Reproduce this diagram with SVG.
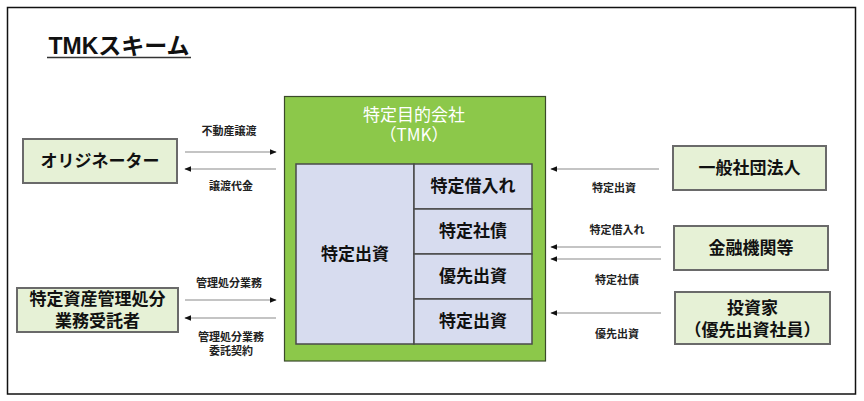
<svg xmlns="http://www.w3.org/2000/svg" width="864" height="401" viewBox="0 0 864 401">
<style>
text{font-family:"Liberation Sans","Noto Sans CJK JP",sans-serif;text-anchor:middle;fill:#111}
.node rect{fill:#E6F1D6;stroke:#6A6A6A;stroke-width:2}
.nl{font-size:17px;font-weight:bold;font-family:"Noto Sans CJK JP",sans-serif}
.sl{font-size:11px;font-weight:bold;font-family:"Noto Sans CJK JP",sans-serif;fill:#222}
.inner{fill:#D7DCEF;stroke:#4A4A4A;stroke-width:1.5}
.wt{font-size:17px;fill:#fff;font-family:"Noto Sans CJK JP",sans-serif}
#connectors line{stroke:#8A8A8A;stroke-width:1.2}
</style>
<defs>
<marker id="ah" viewBox="0 0 10 10" refX="9" refY="5" markerWidth="7" markerHeight="7" markerUnits="userSpaceOnUse" orient="auto">
<path d="M0,1 L10,5 L0,9 z" fill="#111"/>
</marker>
</defs>
<rect x="0" y="0" width="864" height="401" fill="#fff"/>
<rect x="7.5" y="7.5" width="848" height="386.5" fill="none" stroke="#111" stroke-width="1.5"/>
<g id="title">
<text x="119" y="54" style="font-size:23px;font-weight:bold;font-family:'Liberation Sans','Noto Sans CJK JP',sans-serif">TMKスキーム</text>
<line x1="47" y1="57.5" x2="191" y2="57.5" stroke="#333" stroke-width="1.5"/>
</g>
<g id="tmk">
<rect x="284.5" y="96.5" width="261" height="264.5" fill="#8CC84A" stroke="#3A4A2A" stroke-width="1.2"/>
<text class="wt" x="414" y="121">特定目的会社</text>
<text class="wt" x="414" y="141">（TMK）</text>
<rect class="inner" x="296" y="164" width="118" height="180"/>
<text class="nl" x="355" y="260" style="font-weight:bold">特定出資</text>
<rect class="inner" x="414" y="164" width="118" height="45"/>
<text class="nl" x="473" y="192">特定借入れ</text>
<rect class="inner" x="414" y="209" width="118" height="45"/>
<text class="nl" x="473" y="237">特定社債</text>
<rect class="inner" x="414" y="254" width="118" height="45"/>
<text class="nl" x="473" y="282">優先出資</text>
<rect class="inner" x="414" y="299" width="118" height="45"/>
<text class="nl" x="473" y="327">特定出資</text>
</g>
<g id="originator" class="node">
<rect x="23" y="139" width="154" height="44"/>
<text class="nl" x="100" y="167">オリジネーター</text>
</g>
<g id="manager" class="node">
<rect x="17" y="288" width="161" height="44"/>
<text class="nl" x="97.5" y="305">特定資産管理処分</text>
<text class="nl" x="97.5" y="327">業務受託者</text>
</g>
<g id="ippan" class="node">
<rect x="673" y="146" width="153" height="44"/>
<text class="nl" x="749.5" y="174">一般社団法人</text>
</g>
<g id="kinyu" class="node">
<rect x="674" y="226" width="154" height="44"/>
<text class="nl" x="751" y="254">金融機関等</text>
</g>
<g id="toushika" class="node">
<rect x="675" y="292" width="155" height="52"/>
<text class="nl" x="752.5" y="314">投資家</text>
<text class="nl" x="752.5" y="336">（優先出資社員）</text>
</g>
<g id="connectors">
<line x1="185" y1="152" x2="276" y2="152" marker-end="url(#ah)"/>
<line x1="276" y1="169" x2="185" y2="169" marker-end="url(#ah)"/>
<line x1="185" y1="300" x2="276" y2="300" marker-end="url(#ah)"/>
<line x1="276" y1="318" x2="185" y2="318" marker-end="url(#ah)"/>
<line x1="659" y1="169" x2="551" y2="169" marker-end="url(#ah)"/>
<line x1="661" y1="247" x2="551" y2="247" marker-end="url(#ah)"/>
<line x1="661" y1="259" x2="551" y2="259" marker-end="url(#ah)"/>
<line x1="661" y1="313" x2="551" y2="313" marker-end="url(#ah)"/>
<text class="sl" x="229" y="135">不動産譲渡</text>
<text class="sl" x="231" y="190">譲渡代金</text>
<text class="sl" x="229" y="287">管理処分業務</text>
<text class="sl" x="231" y="341">管理処分業務</text>
<text class="sl" x="231" y="355">委託契約</text>
<text class="sl" x="614" y="192">特定出資</text>
<text class="sl" x="617" y="234">特定借入れ</text>
<text class="sl" x="617" y="284">特定社債</text>
<text class="sl" x="617" y="338">優先出資</text>
</g>
</svg>
